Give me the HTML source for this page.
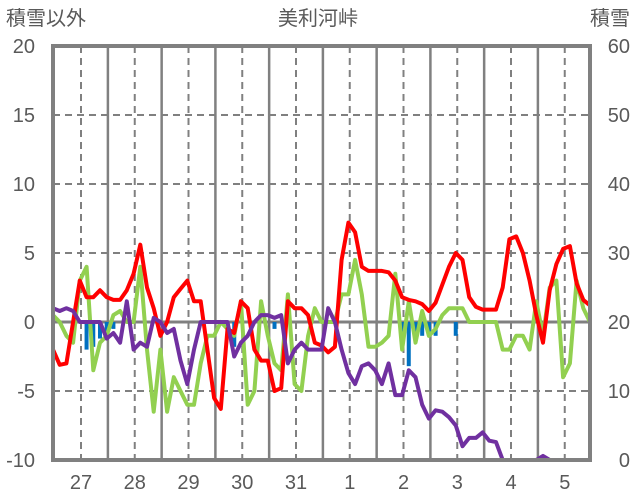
<!DOCTYPE html>
<html><head><meta charset="utf-8"><style>
html,body{margin:0;padding:0;background:#fff;}
svg{display:block;font-family:"Liberation Sans","Noto Sans CJK JP",sans-serif;}
</style></head><body>
<svg id="chart" width="636" height="501" viewBox="0 0 636 501">
<text x="6" y="25" font-size="20" fill="#595959">積雪以外</text>
<text x="318" y="25" font-size="20" fill="#595959" text-anchor="middle">美利河峠</text>
<text x="630" y="25" font-size="20" fill="#595959" text-anchor="end">積雪</text>
<g id="grid"></g><g id="bars"></g><g id="lines"></g><g id="frame"></g><g id="ticks"></g>
</svg>
<script>
const dayLabels = ["27","28","29","30","31","1","2","3","4","5"];
const leftTicks = [20,15,10,5,0,-5,-10];
const rightTicks = [60,50,40,30,20,10,0];
// 3-hourly samples
const temperature = [-2,-3.1,-3,0,3,1.8,1.8,2.3,1.8,1.6,1.6,2.3,3.5,5.6,2.5,1,-1,0,1.8,2.4,3,1.5,1.5,-2,-5.5,-6.3,-0.5,-0.8,1.5,1,-2,-2.8,-2.8,-5,-4.8,1.5,1,1,0.5,-1.5,-1.7,-2.2,-1.8,4.5,7.2,6.5,4,3.7,3.7,3.7,3.6,3,1.8,1.6,1.5,1.3,0.8,1.4,2.7,4,5,4.5,1.8,1.1,0.9,0.9,0.9,2.5,6,6.2,5,3,0.5,-1.5,2.3,4.2,5.3,5.5,2.8,1.6,1.2];
const greenSeries = [0.5,0,-1,-1.5,3,4,-3.5,-1.5,-1,0.5,0.8,0,0,4,-2,-6.5,-2,-6.5,-4,-5,-6,-6,-3,-1,-1,0,-0.5,-1,1.5,-6,-5,1.5,-1,-3,-3.5,2,-4.5,-5,-1,1,0,0,0,2,2,4.5,2,-1.8,-1.8,-1.5,-1,3.5,-2,1.5,-1.5,0.8,-1,-0.5,0.5,1,1,1,0,0,0,0,0,-2,-2,-1,-1,-2,1.5,-1,2.5,3,-4,-3,3,1,0];
const snowDepth = [22,21.6,22,21.6,20,20,20,20,17.6,18.4,17,23,16,17,16.4,20.6,20,18.4,19,14.4,11,16,20,20,20,20,20,15,17,18,20,21,21,20.6,21,14,16,17,16,16,16,22,20,16,12.6,11,13.6,14,13,11,14,9.4,9.4,13,12,8,6,7.2,7,6.2,5,2,3.2,3.2,4,2.8,2.6,0,0,0,0,0,0,0.6,0,0,0,0,0,0,0];
const precip = [0,0,0,0,0,-2,-1.8,-1.2,-1,-0.5,0,0,0,0,0,0,0,0,0,0,0,0,0,0,0,0,0,-1.8,0,0,0,0,0,-0.5,0,0,0,0,0,0,0,0,0,0,0,0,0,0,0,0,0,0,-1,-3.2,-1,-1,-1,-1,0,0,-1,0,0,0,0,0,0,0,0,0,0,0,0,0,0,0,0,0,0,0,0];

const X0=53,X1=590,Y0=46,Y1=460,N=temperature.length;
const xs=i=>X0+(X1-X0)*i/(N-1);
const yL=v=>Y1-(v+10)*(Y1-Y0)/30;
const yR=v=>Y1-v*(Y1-Y0)/60;
const NS="http://www.w3.org/2000/svg";
function mk(tag,attrs,parent){const e=document.createElementNS(NS,tag);for(const k in attrs)e.setAttribute(k,attrs[k]);parent.appendChild(e);return e;}
const grid=document.getElementById('grid'),bars=document.getElementById('bars'),lines=document.getElementById('lines'),frame=document.getElementById('frame'),ticks=document.getElementById('ticks');
for(let k=0;k<10;k++){
  const xd=81+k*53.75;
  const l=mk('line',{x1:xd,x2:xd,y1:Y0,y2:Y1,stroke:'#808080','stroke-width':2,'stroke-dasharray':'7,5'},grid);
  
  
  const t=mk('text',{x:xd,y:489,'font-size':20,fill:'#595959','text-anchor':'middle'},ticks);
  t.textContent=dayLabels[k];
  
  
  if(k<9){const xs2=xd+26.9;const s=mk('line',{x1:xs2,x2:xs2,y1:Y0,y2:Y1,stroke:'#808080','stroke-width':2.5},grid);
  
  }
}
leftTicks.forEach((v,i)=>{
  const y=yL(v);
  if(v!==20&&v!==-10){const g=mk('line',{x1:X0,x2:X1,y1:y,y2:y,stroke:'#808080','stroke-width':v===0?3:2,'stroke-dasharray':v===0?'none':'7,5'},grid);
  
  }
  const t=mk('text',{x:35,y:y+7,'font-size':20,fill:'#595959','text-anchor':'end'},ticks);
  t.textContent=v;
  
  
  const t2=mk('text',{x:630,y:yR(rightTicks[i])+7,'font-size':20,fill:'#595959','text-anchor':'end'},ticks);
  t2.textContent=rightTicks[i];
  
  
});
precip.forEach((v,i)=>{if(v<0){const r=mk('rect',{x:xs(i)-2,y:yL(0),width:4,height:yL(v)-yL(0),fill:'#0070C0'},bars);
  
  }});
function line(arr,yf,color,name){const p=mk('polyline',{points:arr.map((v,i)=>xs(i).toFixed(1)+','+yf(v).toFixed(1)).join(' '),fill:'none',stroke:color,'stroke-width':4,'stroke-linejoin':'round'},lines);
  
  }
line(greenSeries,yL,'#92D050','green-series-line');
line(temperature,yL,'#FF0000','temperature-line');
line(snowDepth,yR,'#7030A0','snow-depth-line');
const f=mk('rect',{x:X0,y:Y0,width:X1-X0,height:Y1-Y0,fill:'none',stroke:'#808080','stroke-width':4},frame);


</script>
</body></html>
